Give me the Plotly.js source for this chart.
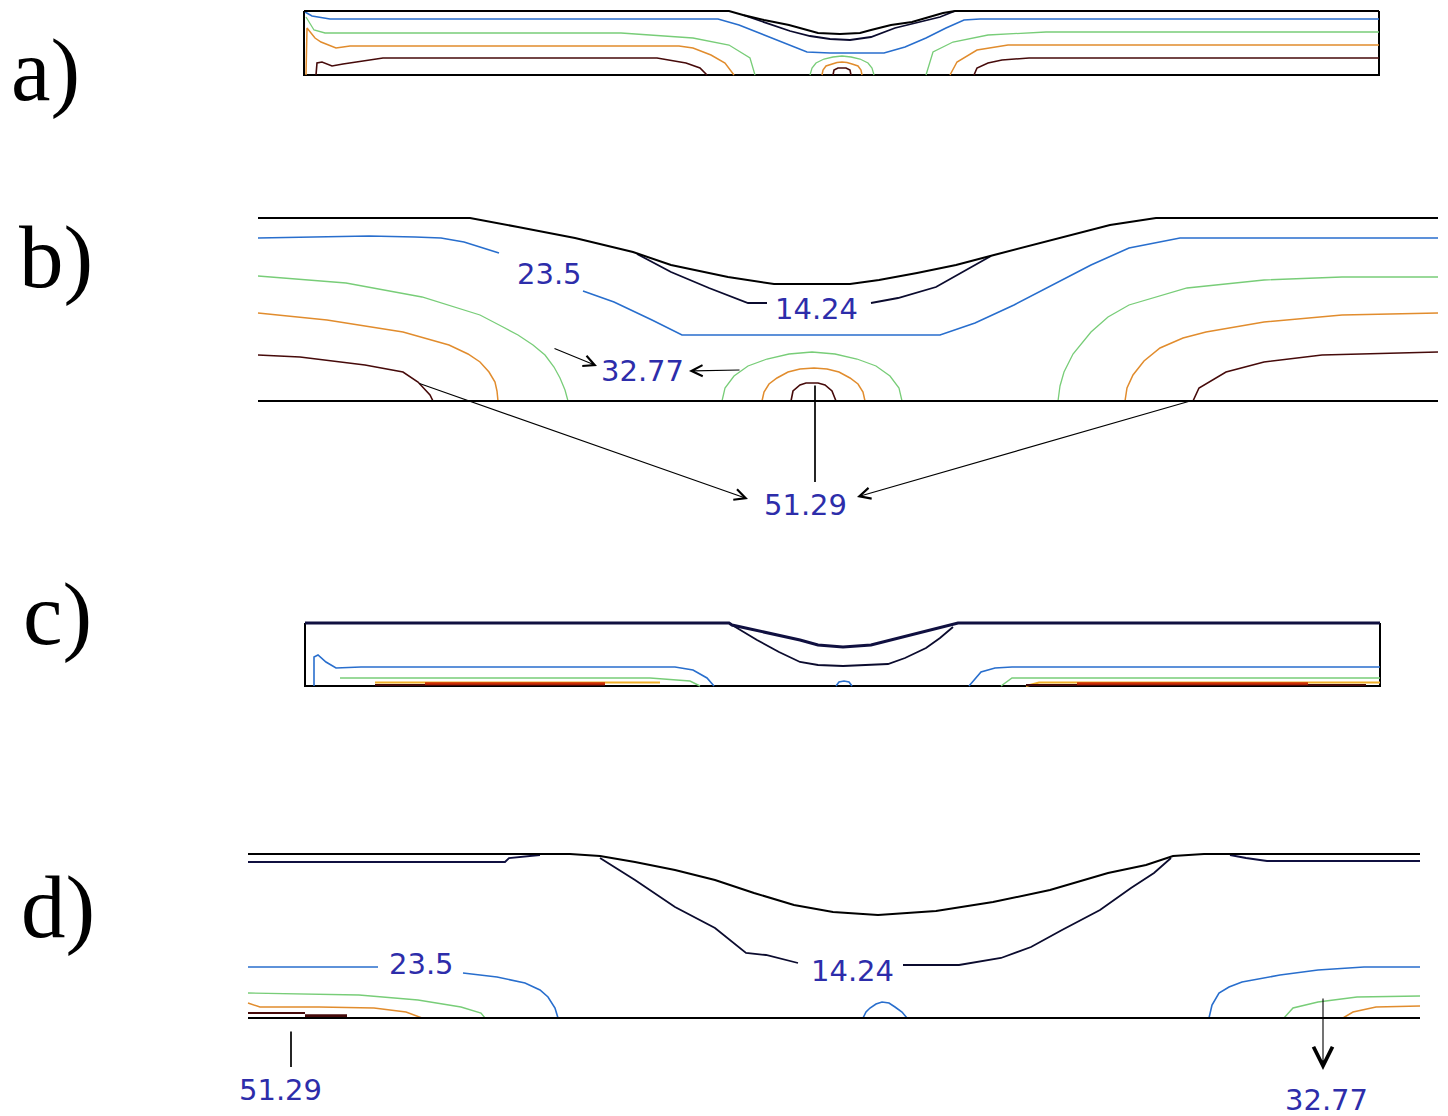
<!DOCTYPE html>
<html><head><meta charset="utf-8">
<script src="https://cdn.plot.ly/plotly-3.0.1.min.js"></script>
<style>html,body{margin:0;padding:0;background:#fff}#chart{width:1448px;height:1116px}</style>
</head><body><div id="chart"></div>
<script>
// ===== DATA (x = position along the domain, y = height above the lower wall) =====
// Panel a
const aTopX = [0,425,439,460,485,503,514,536,556,567,587,608,625,639,651,1075];
const aTopY = [64,64,60,55,50,45,42,41,42,45,50,53,58,62,64,64];
const aFrameX = [0,0,1075,1075];
const aFrameY = [64,0,0,64];
const aInnerX = [439,466,486,506,526,546,567,591,615,636,651];
const aInnerY = [60,51,44,39,36,35,38,47,53,58,64];
const aBlueX = [1,8,26,414,435,460,485,503,526,580,601,622,642,660,676,1075];
const aBlueY = [63,59,56,56,50,40,30,23,22,22,28,37,47,55,56,56];
const aGreenLX = [2,10,21,317,389,425,446,451];
const aGreenLY = [58,45,42,42,37,30,17,0];
const aGreenRX = [622,629,649,684,742,1075];
const aGreenRY = [0,23,33,40,43,43];
const aGreenCX = [506,508,512,520,529,538,547,556,564,568,570];
const aGreenCY = [0,7,12,16,18,19,18,16,12,7,0];
const aOrangeLX = [2,3,11,17,32,46,375,389,407,421,430];
const aOrangeLY = [0,47,37,33,27,29,29,27,20,12,0];
const aOrangeRX = [646,653,673,704,1075];
const aOrangeRY = [0,13,25,30,30];
const aOrangeCX = [518,519,522,528,533,538,543,548,554,557,558];
const aOrangeCY = [0,5,9,11,12.5,13,12.5,11,9,5,0];
const aDarkLX = [12,13,18,28,39,79,353,382,396,403];
const aDarkLY = [0,12,13,9,11,17,17,12,7,0];
const aDarkRX = [670,673,684,698,725,1075];
const aDarkRY = [0,7,12,15,17,17];
const aDarkCX = [529,530,534,542,546,547];
const aDarkCY = [0,5,7,7,5,0];

// Panel b
const bTopX = [0,212,260,317,375,413,470,516,592,621,659,698,736,775,813,852,898,1180];
const bTopY = [183,183,174,163,149,136,124,117,117,121,128,136,146,156,166,176,183,183];
const bBaseX = [0,1180];
const bBaseY = [0,0];
const bInnerLX = [379,413,451,490,509];
const bInnerLY = [147,129,113,98,98];
const bInnerRX = [613,640,678,709,733];
const bInnerRY = [98,103,114,131,145];
const bBlueLX = [0,65,111,157,183,206,241];
const bBlueLY = [163,164,165,164,163,159,148];
const bBlueRX = [325,356,394,424,682,717,756,794,833,871,922,1180];
const bBlueRY = [110,99,81,66,66,78,96,116,136,153,163,163];
const bGreenLX = [0,88,164,222,245,260,275,287,296,302,307,310];
const bGreenLY = [125,118,104,86,74,66,56,46,34,23,11,0];
const bGreenRX = [800,802,806,815,833,850,871,929,1006,1084,1180];
const bGreenRY = [0,15,29,47,69,84,96,113,121,124,124];
const bGreenCX = [464,467,476,490,509,531,554,577,599,618,632,641,644];
const bGreenCY = [0,13,25,35,42,47,49,47,42,35,25,13,0];
const bOrangeLX = [0,69,145,191,210,222,231,237,239,240];
const bOrangeLY = [88,81,69,56,47,39,29,19,10,0];
const bOrangeRX = [867,869,875,886,902,925,948,1006,1084,1180];
const bOrangeRY = [0,13,26,40,53,63,69,79,86,88];
const bOrangeCX = [504,506,511,519,530,542,556,569,581,592,600,605,607];
const bOrangeCY = [0,9,17,23,29,32,33,32,29,23,17,9,0];
const bDarkLX = [0,42,107,145,160,172,175];
const bDarkLY = [46,44,36,29,19,6,0];
const bDarkRX = [935,941,968,1006,1064,1180];
const bDarkRY = [0,13,29,39,46,49];
const bDarkCX = [533,535,542,548,560,567,574,578];
const bDarkCY = [0,10,16,18,18,16,10,0];

// Panel c
const cTopX = [0,424,427,459,495,513,538,566,586,607,628,648,653,1075];
const cTopY = [63,63,61,54,46,41,39,41,46,51,56,61,63,63];
const cFrameX = [0,0,1075,1075];
const cFrameY = [63,0,0,63];
const cInnerX = [427,452,474,495,513,538,583,600,621,635,648];
const cInnerY = [61,46,34,24,21,20,22,28,38,48,59];
const cBlueLX = [9,9,13,21,31,56,370,388,402,409];
const cBlueLY = [0,29,31,24,18,19,19,16,8,0];
const cBlueRX = [664,676,690,707,1075];
const cBlueRY = [0,14,18,19,19];
const cBlueCX = [531,534,539,544,547];
const cBlueCY = [0,4,5,4,0];
const cGreenLX = [35,345,385,395];
const cGreenLY = [8,8,5,0];
const cGreenRX = [696,707,1075];
const cGreenRY = [0,8,8];
const cOrangeLX = [70,355];
const cOrangeLY = [3.5,3.5];
const cOrangeRX = [721,734,1075];
const cOrangeRY = [0,3.5,3.5];
const cDarkLX = [70,300];
const cDarkLY = [1,1];
const cDarkRX = [721,1061];
const cDarkRY = [1,1];
const cRedLX = [120,300];
const cRedLY = [2.5,2.5];
const cRedRX = [772,1003];
const cRedRY = [2.5,2.5];

// Panel d
const dTopX = [1,323,353,388,428,468,507,547,586,631,689,746,803,861,899,926,957,1173];
const dTopY = [164,164,162,156,148,138,125,113,106,103,107,116,128,145,153,162,164,164];
const dNavyLX = [1,258,262,293];
const dNavyLY = [156,156,160,163];
const dNavyRX = [983,999,1020,1173];
const dNavyRY = [163,160,157,157];
const dInnerLX = [353,388,428,468,499,519,551];
const dInnerLY = [160,138,111,90,65,63,55];
const dInnerRX = [656,712,754,784,815,853,884,907,924];
const dInnerRY = [53,53,60,71,88,108,130,145,160];
const dBaseX = [1,1173];
const dBaseY = [0,0];
const dBlueLX = [1,131];
const dBlueLY = [51,51];
const dBlueMX = [216,250,278,293,301,308,311];
const dBlueMY = [45,41,35,28,21,10,0];
const dBlueCX = [616,619,623,629,635,642,648,655,660];
const dBlueCY = [0,6,10,14,16,15,11,6,0];
const dBlueRX = [962,965,972,982,995,1033,1071,1117,1173];
const dBlueRY = [0,13,25,31,36,43,48,51,51];
const dGreenLX = [1,112,171,214,234,238];
const dGreenLY = [25,23,18,11,5,0];
const dGreenRX = [1037,1046,1071,1110,1173];
const dGreenRY = [0,10,16,21,22];
const dOrangeLX = [1,13,72,127,159,175];
const dOrangeLY = [15,11,11,10,6,0];
const dOrangeRX = [1096,1106,1129,1173];
const dOrangeRY = [0,6,11,12];
const dDarkThinX = [1,58];
const dDarkThinY = [5,5];
const dDarkThickX = [58,100];
const dDarkThickY = [2,2];

// Contour value labels
const bLabelText = ['23.5','14.24','32.77','51.29'];
const bLabelX = [291,558,384,547];
const bLabelY = [127,92,30,-104];
const dLabelText = ['23.5','14.24','51.29','32.77'];
const dLabelX = [174,605,33,1079];
const dLabelY = [54,47,-72,-82];
// Leader arrows: tail -> tip
const bArrowTailX = [295,483,160,932,557];
const bArrowTailY = [53,31,18,0,17];
const bArrowTipX = [339,431,490,599,557];
const bArrowTipY = [35,30,-98,-96,-81];
const bArrowHead = [true,true,true,true,false];
const dArrowTailX = [44,1076];
const dArrowTailY = [-12,21];
const dArrowTipX = [44,1076];
const dArrowTipY = [-49,-52];
const dArrowHead = [false,true];

const panelNames = ['a)','b)','c)','d)'];

// ===== LAYOUT (positions / styles) =====
const FW = 1448, FH = 1116;
const frames = [
  {x0:304, y0:75,  xr:[-6,1082], yr:[-6,72]},
  {x0:258, y0:401, xr:[-6,1186], yr:[-125,192]},
  {x0:305, y0:686, xr:[-6,1082], yr:[-6,70]},
  {x0:247, y0:1018,xr:[-6,1182], yr:[-96,172]}
];
const letterPos = [[9,70],[17,257],[21,614],[19,907]];
const headSizes = [2, 2, 2, 3.4];

const COL = {
  wall:'#000000', inner:'#0b0b2e', blue:'rgb(40,110,205)', green:'rgb(120,205,120)',
  orange:'rgb(225,140,45)', dark:'rgb(70,10,10)', red:'rgb(205,45,5)', navy:'#101040'
};

const traces = [];
function ln(p, xs, ys, color, width){
  const s = p === 0 ? '' : String(p+1);
  traces.push({x:xs, y:ys, xaxis:'x'+s, yaxis:'y'+s, mode:'lines',
    line:{color:color, width:width}, hoverinfo:'skip', showlegend:false});
}

// a
ln(0,aFrameX,aFrameY,COL.wall,2);
ln(0,aGreenLX,aGreenLY,COL.green,1.3); ln(0,aGreenRX,aGreenRY,COL.green,1.3); ln(0,aGreenCX,aGreenCY,COL.green,1.3);
ln(0,aOrangeLX,aOrangeLY,COL.orange,1.5); ln(0,aOrangeRX,aOrangeRY,COL.orange,1.5); ln(0,aOrangeCX,aOrangeCY,COL.orange,1.5);
ln(0,aDarkLX,aDarkLY,COL.dark,1.6); ln(0,aDarkRX,aDarkRY,COL.dark,1.6); ln(0,aDarkCX,aDarkCY,COL.dark,1.6);
ln(0,aBlueX,aBlueY,COL.blue,1.6);
ln(0,aInnerX,aInnerY,COL.inner,1.8);
ln(0,aTopX,aTopY,COL.wall,2);
// b
ln(1,bGreenLX,bGreenLY,COL.green,1.3); ln(1,bGreenRX,bGreenRY,COL.green,1.3); ln(1,bGreenCX,bGreenCY,COL.green,1.3);
ln(1,bOrangeLX,bOrangeLY,COL.orange,1.5); ln(1,bOrangeRX,bOrangeRY,COL.orange,1.5); ln(1,bOrangeCX,bOrangeCY,COL.orange,1.5);
ln(1,bDarkLX,bDarkLY,COL.dark,1.6); ln(1,bDarkRX,bDarkRY,COL.dark,1.6); ln(1,bDarkCX,bDarkCY,COL.dark,1.6);
ln(1,bBlueLX,bBlueLY,COL.blue,1.6); ln(1,bBlueRX,bBlueRY,COL.blue,1.6);
ln(1,bInnerLX,bInnerLY,COL.inner,1.8); ln(1,bInnerRX,bInnerRY,COL.inner,1.8);
ln(1,bTopX,bTopY,COL.wall,2); ln(1,bBaseX,bBaseY,COL.wall,2);
// c
ln(2,cFrameX,cFrameY,COL.wall,2);
ln(2,cGreenLX,cGreenLY,COL.green,1.5); ln(2,cGreenRX,cGreenRY,COL.green,1.5);
ln(2,cOrangeLX,cOrangeLY,'rgb(240,175,40)',2); ln(2,cOrangeRX,cOrangeRY,'rgb(240,175,40)',2);
ln(2,cDarkLX,cDarkLY,COL.dark,2); ln(2,cDarkRX,cDarkRY,COL.dark,2);
ln(2,cRedLX,cRedLY,COL.red,2.5); ln(2,cRedRX,cRedRY,COL.red,2.5);
ln(2,cBlueLX,cBlueLY,COL.blue,1.6); ln(2,cBlueRX,cBlueRY,COL.blue,1.6); ln(2,cBlueCX,cBlueCY,COL.blue,1.6);
ln(2,cInnerX,cInnerY,COL.inner,1.8);
ln(2,cTopX,cTopY,COL.navy,3);
// d
ln(3,dGreenLX,dGreenLY,COL.green,1.4); ln(3,dGreenRX,dGreenRY,COL.green,1.4);
ln(3,dOrangeLX,dOrangeLY,COL.orange,1.5); ln(3,dOrangeRX,dOrangeRY,COL.orange,1.5);
ln(3,dDarkThinX,dDarkThinY,COL.dark,2); ln(3,dDarkThickX,dDarkThickY,COL.dark,3.5);
ln(3,dBlueLX,dBlueLY,COL.blue,1.6); ln(3,dBlueMX,dBlueMY,COL.blue,1.6); ln(3,dBlueCX,dBlueCY,COL.blue,1.6); ln(3,dBlueRX,dBlueRY,COL.blue,1.6);
ln(3,dInnerLX,dInnerLY,COL.inner,1.8); ln(3,dInnerRX,dInnerRY,COL.inner,1.8);
ln(3,dNavyLX,dNavyLY,COL.navy,1.8); ln(3,dNavyRX,dNavyRY,COL.navy,1.8);
ln(3,dTopX,dTopY,COL.wall,2); ln(3,dBaseX,dBaseY,COL.wall,2);

const layout = {
  width:FW, height:FH, margin:{l:0,r:0,t:0,b:0},
  paper_bgcolor:'#ffffff', plot_bgcolor:'rgba(0,0,0,0)', showlegend:false,
  annotations:[]
};
frames.forEach((f,i)=>{
  const s = i===0 ? '' : String(i+1);
  layout['xaxis'+s] = {visible:false, range:f.xr, domain:[(f.x0+f.xr[0])/FW,(f.x0+f.xr[1])/FW],
              anchor:'y'+s, fixedrange:true, showgrid:false, zeroline:false};
  layout['yaxis'+s] = {visible:false, range:f.yr, domain:[1-(f.y0-f.yr[0])/FH, 1-(f.y0-f.yr[1])/FH],
              anchor:'x'+s, fixedrange:true, showgrid:false, zeroline:false};
});

const labelFont = {family:'DejaVu Sans', size:29, color:'rgb(45,45,170)'};
function addLabels(p, texts, xs, ys){
  const s = p===0 ? '' : String(p+1);
  texts.forEach((t,i)=>layout.annotations.push({text:t, x:xs[i], y:ys[i], xref:'x'+s, yref:'y'+s,
    showarrow:false, font:labelFont, xanchor:'center', yanchor:'middle'}));
}
function addArrows(p, tx, ty, hx, hy, head){
  const s = p===0 ? '' : String(p+1);
  tx.forEach((_,i)=>layout.annotations.push({text:'', x:hx[i], y:hy[i], ax:tx[i], ay:ty[i],
    xref:'x'+s, yref:'y'+s, axref:'x'+s, ayref:'y'+s, showarrow:true,
    arrowhead: head[i] ? 5 : 0, arrowsize:headSizes[p], arrowwidth: head[i] ? 1.1 : 1.7, arrowcolor:'#000',
    standoff:0, startstandoff:0}));
}
addLabels(1, bLabelText, bLabelX, bLabelY);
addLabels(3, dLabelText, dLabelX, dLabelY);
addArrows(1, bArrowTailX, bArrowTailY, bArrowTipX, bArrowTipY, bArrowHead);
addArrows(3, dArrowTailX, dArrowTailY, dArrowTipX, dArrowTipY, dArrowHead);

panelNames.forEach((t,i)=>layout.annotations.push({text:t, xref:'paper', yref:'paper',
  x:letterPos[i][0]/FW, y:1-letterPos[i][1]/FH, xanchor:'left', yanchor:'middle', showarrow:false,
  font:{family:'Liberation Serif', size:89, color:'#000'}}));

Plotly.newPlot('chart', traces, layout, {displayModeBar:false, staticPlot:true});
</script></body></html>
